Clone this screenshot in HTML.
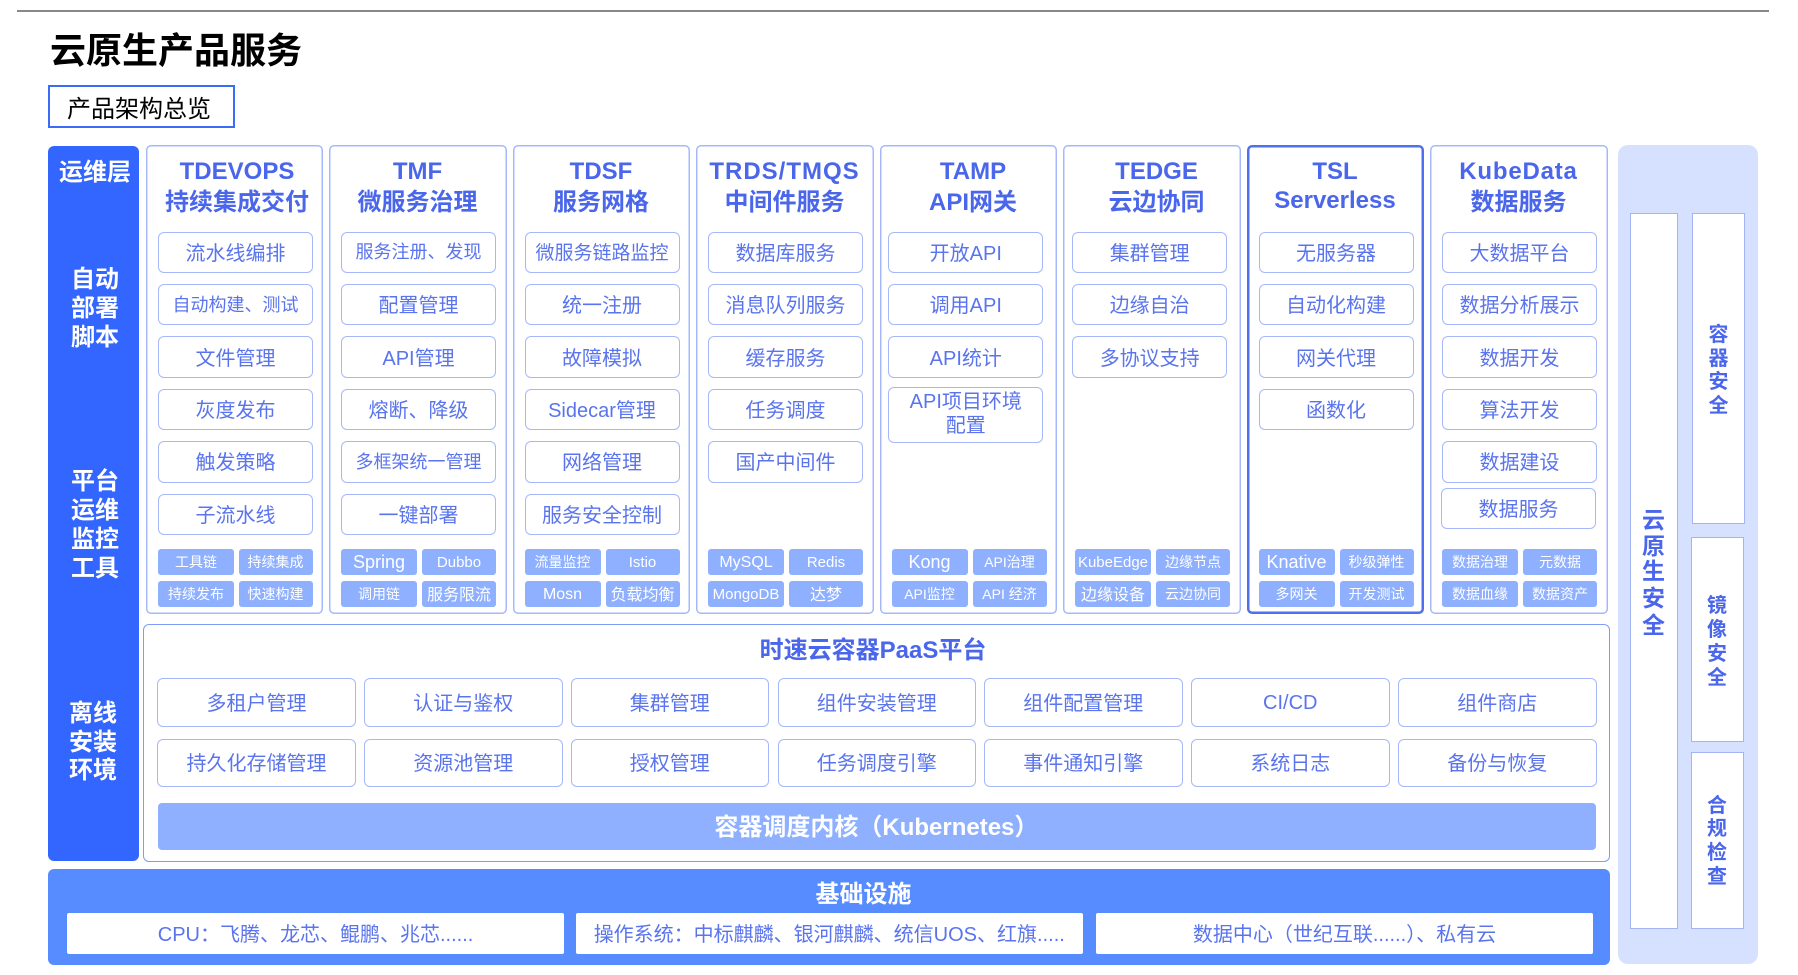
<!DOCTYPE html>
<html><head><meta charset="utf-8"><style>
html,body{margin:0;padding:0;background:#fff}
body{width:1798px;height:975px;position:relative;overflow:hidden;font-family:"Liberation Sans","Noto Sans CJK SC",sans-serif}
div{position:absolute;box-sizing:border-box}
.c{display:flex;align-items:center;justify-content:center;white-space:nowrap;text-align:center}
.col{top:145px;width:177.5px;height:469px;border-radius:5px;box-shadow:inset 0 0 0 1.5px #a6b8fa;background:#fff}
.h{left:0;width:177px;height:30px;font-size:24px;font-weight:bold;color:#4a66ea}
.h1{top:12px}.h2{top:39px}
.i{left:12px;width:155px;height:41.3px;border:1.5px solid #a6b8fa;border-radius:6px;font-size:20px;color:#5a74ee;background:#fff;padding-bottom:2px}
.r1{top:86.7px}.r2{top:139px}.r3{top:191.4px}.r4{top:243.8px}.r5{top:296.3px}.r6{top:348.7px}
.t{height:25.5px;background:#8fb0ff;border-radius:3px;color:#fff;font-size:14px}
.a{left:12px;width:76px}.b{left:93px;width:74px}.u{top:404px}.v{top:436px}
.l{padding-top:2px}.k{padding-bottom:2px}
.p{width:198.5px;height:48.5px;border:1.5px solid #a6b8fa;border-radius:6px;font-size:20px;color:#5a74ee;background:#fff;padding-bottom:2px}
.w{color:#fff;font-size:24px;font-weight:bold;line-height:29px;height:29px;width:90px;left:48px}
.f{top:912.7px;height:41px;background:#fff;border-radius:2px;font-size:20px;color:#5a74ee;padding-bottom:2px}
.s{background:#fff;border:1.5px solid #a2b4f6}
.z{color:#4a66ea;font-weight:bold;width:40px;height:26px;line-height:26px;text-align:center}
</style></head><body>
<div style="left:17px;top:10px;width:1752px;height:2px;background:#888"></div>
<div class="c" style="left:50px;top:26px;height:44px;font-size:36px;font-weight:bold;color:#000">云原生产品服务</div>
<div class="c" style="left:48px;top:85px;width:187px;height:43px;border:2px solid #3b6cf6;font-size:24px;color:#000;padding-right:5px;padding-bottom:1px">产品架构总览</div>

<div style="left:48px;top:146px;width:90.5px;height:715px;background:#3366ff;border-radius:6px"></div>
<div class="w c" style="left:50px;top:158px">运维层</div>
<div class="w c" style="top:265px;left:50px">自动</div><div class="w c" style="top:294px;left:50px">部署</div><div class="w c" style="top:323px;left:50px">脚本</div>
<div class="w c" style="top:467px;left:50px">平台</div><div class="w c" style="top:496px;left:50px">运维</div><div class="w c" style="top:525px;left:50px">监控</div><div class="w c" style="top:554px;left:50px">工具</div>
<div class="w c" style="top:699px">离线</div><div class="w c" style="top:728px">安装</div><div class="w c" style="top:756px">环境</div>

<div class="col" style="left:145.5px">
<div class="h h1 c" style="left:3px">TDEVOPS</div><div class="h h2 c" style="left:3px">持续集成交付</div>
<div class="i c r1" style="left:12.5px">流水线编排</div><div class="i c r2" style="font-size:18px;left:12.5px">自动构建、测试</div><div class="i c r3" style="left:12.5px">文件管理</div><div class="i c r4" style="left:12.5px">灰度发布</div><div class="i c r5" style="left:12.5px">触发策略</div><div class="i c r6" style="left:12.5px">子流水线</div>
<div class="t c a u" style="left:12.5px">工具链</div><div class="t c b u">持续集成</div><div class="t c a v" style="left:12.5px">持续发布</div><div class="t c b v">快速构建</div>
</div>
<div class="col" style="left:329px">
<div class="h h1 c">TMF</div><div class="h h2 c">微服务治理</div>
<div class="i c r1" style="font-size:18px">服务注册、发现</div><div class="i c r2">配置管理</div><div class="i c r3">API管理</div><div class="i c r4">熔断、降级</div><div class="i c r5" style="font-size:18px">多框架统一管理</div><div class="i c r6">一键部署</div>
<div class="t c a u l" style="font-size:18px">Spring</div><div class="t c b u l" style="font-size:15px">Dubbo</div><div class="t c a v">调用链</div><div class="t c b v k" style="font-size:16px">服务限流</div>
</div>
<div class="col" style="left:512.5px">
<div class="h h1 c">TDSF</div><div class="h h2 c">服务网格</div>
<div class="i c r1" style="font-size:19px">微服务链路监控</div><div class="i c r2">统一注册</div><div class="i c r3">故障模拟</div><div class="i c r4">Sidecar管理</div><div class="i c r5">网络管理</div><div class="i c r6">服务安全控制</div>
<div class="t c a u">流量监控</div><div class="t c b u l" style="font-size:15px">Istio</div><div class="t c a v l" style="font-size:16px">Mosn</div><div class="t c b v k" style="font-size:16px">负载均衡</div>
</div>
<div class="col" style="left:696px">
<div class="h h1 c" style="letter-spacing:1px">TRDS/TMQS</div><div class="h h2 c">中间件服务</div>
<div class="i c r1">数据库服务</div><div class="i c r2">消息队列服务</div><div class="i c r3">缓存服务</div><div class="i c r4">任务调度</div><div class="i c r5">国产中间件</div>
<div class="t c a u l" style="font-size:16px">MySQL</div><div class="t c b u l" style="font-size:15px">Redis</div><div class="t c a v l" style="font-size:15px">MongoDB</div><div class="t c b v k" style="font-size:16px">达梦</div>
</div>
<div class="col" style="left:879.5px">
<div class="h h1 c" style="left:5px">TAMP</div><div class="h h2 c" style="left:5px">API网关</div>
<div class="i c r1" style="left:8.8px">开放API</div><div class="i c r2" style="left:8.8px">调用API</div><div class="i c r3" style="left:8.8px">API统计</div><div class="i c" style="left:8.8px;top:241.7px;height:56px;line-height:24px;white-space:normal;padding:0 4px 1px">API项目环境<br>配置</div>
<div class="t c a u l" style="font-size:18px">Kong</div><div class="t c b u">API治理</div><div class="t c a v">API监控</div><div class="t c b v">API 经济</div>
</div>
<div class="col" style="left:1063px">
<div class="h h1 c" style="left:5px">TEDGE</div><div class="h h2 c" style="left:5px">云边协同</div>
<div class="i c r1" style="left:9.2px">集群管理</div><div class="i c r2" style="left:9.2px">边缘自治</div><div class="i c r3" style="left:9.2px">多协议支持</div>
<div class="t c a u l" style="font-size:15px">KubeEdge</div><div class="t c b u">边缘节点</div><div class="t c a v k" style="font-size:16px">边缘设备</div><div class="t c b v">云边协同</div>
</div>
<div class="col" style="left:1246.5px;box-shadow:inset 0 0 0 2.5px #4f70ee">
<div class="h h1 c">TSL</div><div class="h h2 c" style="top:41px">Serverless</div>
<div class="i c r1">无服务器</div><div class="i c r2">自动化构建</div><div class="i c r3">网关代理</div><div class="i c r4">函数化</div>
<div class="t c a u l" style="font-size:18px">Knative</div><div class="t c b u">秒级弹性</div><div class="t c a v">多网关</div><div class="t c b v">开发测试</div>
</div>
<div class="col" style="left:1430px">
<div class="h h1 c" style="letter-spacing:.8px">KubeData</div><div class="h h2 c">数据服务</div>
<div class="i c r1">大数据平台</div><div class="i c r2">数据分析展示</div><div class="i c r3">数据开发</div><div class="i c r4">算法开发</div><div class="i c r5">数据建设</div><div class="i c" style="left:11px;top:343px">数据服务</div>
<div class="t c a u">数据治理</div><div class="t c b u">元数据</div><div class="t c a v">数据血缘</div><div class="t c b v">数据资产</div>
</div>

<div style="left:143px;top:624px;width:1467px;height:238px;border:1.5px solid #7f9bf8;border-radius:6px;background:#fff"></div>
<div class="c" style="left:650px;top:632px;width:446px;height:30px;font-size:24px;font-weight:bold;color:#4a66ea">时速云容器PaaS平台</div>
<div class="p c" style="left:157.3px;top:678px">多租户管理</div><div class="p c" style="left:364px;top:678px">认证与鉴权</div><div class="p c" style="left:570.5px;top:678px">集群管理</div><div class="p c" style="left:777.5px;top:678px">组件安装管理</div><div class="p c" style="left:984px;top:678px">组件配置管理</div><div class="p c" style="left:1191px;top:678px;padding:3px 0 0">CI/CD</div><div class="p c" style="left:1398px;top:678px">组件商店</div>
<div class="p c" style="left:157.3px;top:738.7px">持久化存储管理</div><div class="p c" style="left:364px;top:738.7px">资源池管理</div><div class="p c" style="left:570.5px;top:738.7px">授权管理</div><div class="p c" style="left:777.5px;top:738.7px">任务调度引擎</div><div class="p c" style="left:984px;top:738.7px">事件通知引擎</div><div class="p c" style="left:1191px;top:738.7px">系统日志</div><div class="p c" style="left:1398px;top:738.7px">备份与恢复</div>
<div class="c" style="left:158.4px;top:802.7px;width:1438px;height:47.5px;background:#8fb0ff;border-radius:4px;color:#fff;font-size:24px;font-weight:bold;padding:0 2px 4px 0">容器调度内核（Kubernetes）</div>

<div style="left:48px;top:869px;width:1562px;height:96px;background:#568cff;border-radius:6px"></div>
<div class="c" style="left:660px;top:876px;width:407px;height:30px;font-size:24px;font-weight:bold;color:#fff">基础设施</div>
<div class="f c" style="left:67.4px;width:496.3px">CPU：飞腾、龙芯、鲲鹏、兆芯......</div>
<div class="f c" style="left:576px;width:506.5px">操作系统：中标麒麟、银河麒麟、统信UOS、红旗.....</div>
<div class="f c" style="left:1096px;width:497px">数据中心（世纪互联......）、私有云</div>

<div style="left:1618px;top:145px;width:140px;height:819px;background:#d6e1ff;border-radius:10px"></div>
<div class="s" style="left:1630px;top:213px;width:47.5px;height:716px"></div>
<div class="s" style="left:1692px;top:213px;width:53px;height:311px"></div>
<div class="s" style="left:1691px;top:537px;width:52.5px;height:205px"></div>
<div class="s" style="left:1690.5px;top:752px;width:53px;height:177px"></div>
<div class="z" style="left:1633.5px;top:507px;font-size:23px">云</div><div class="z" style="left:1633.5px;top:533px;font-size:23px">原</div><div class="z" style="left:1633.5px;top:558px;font-size:23px">生</div><div class="z" style="left:1633.5px;top:585px;font-size:23px">安</div><div class="z" style="left:1633.5px;top:612px;font-size:23px">全</div>
<div class="z" style="left:1698.5px;top:322px;font-size:20px">容</div><div class="z" style="left:1698.5px;top:346px;font-size:20px">器</div><div class="z" style="left:1698.5px;top:369px;font-size:20px">安</div><div class="z" style="left:1698.5px;top:393px;font-size:20px">全</div>
<div class="z" style="left:1697px;top:593px;font-size:20px">镜</div><div class="z" style="left:1697px;top:617px;font-size:20px">像</div><div class="z" style="left:1697px;top:641px;font-size:20px">安</div><div class="z" style="left:1697px;top:665px;font-size:20px">全</div>
<div class="z" style="left:1697px;top:793px;font-size:20px">合</div><div class="z" style="left:1697px;top:816px;font-size:20px">规</div><div class="z" style="left:1697px;top:840px;font-size:20px">检</div><div class="z" style="left:1697px;top:864px;font-size:20px">查</div>
</body></html>
